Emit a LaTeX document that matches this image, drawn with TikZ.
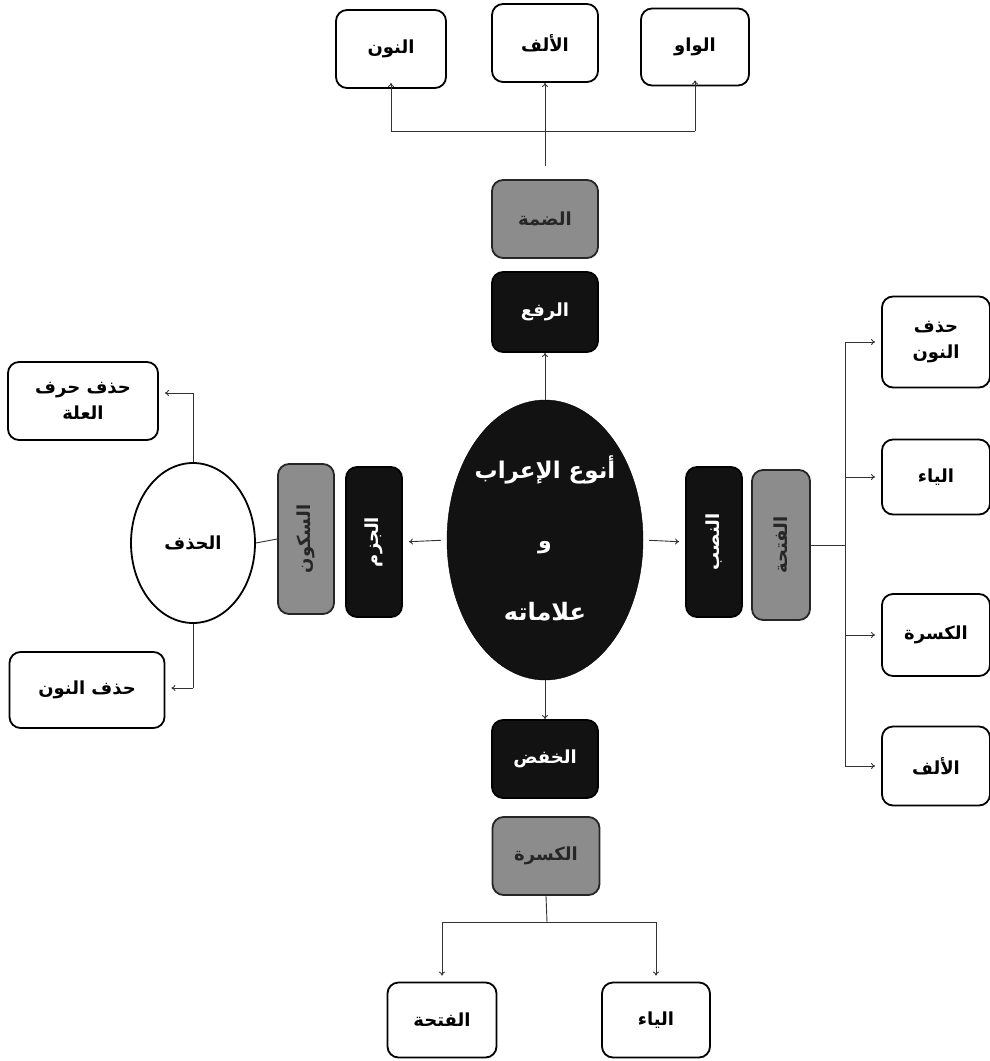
\documentclass[tikz,border=0pt]{standalone}
\usepackage{fontspec}
\usepackage{graphicx}
\usetikzlibrary{arrows.meta,shapes.geometric}
\TeXXeTstate=1
\newfontfamily\arabicfont[Script=Arabic]{DejaVu Sans}
\newcommand{\artext}[1]{{\arabicfont\beginR #1\endR}}
\definecolor{boxgray}{RGB}{140,140,140}
\definecolor{boxblack}{RGB}{18,18,18}
\tikzset{
  base/.style={rounded corners=11pt, line width=1.8pt, inner sep=0pt, align=center,
    font=\arabicfont\bfseries\fontsize{18}{26}\selectfont},
  whitebox/.style={base, draw=black, fill=white, text=black},
  graybox/.style={base, draw=black!85, fill=boxgray, text=black!85},
  blackbox/.style={base, draw=black, fill=boxblack, text=white},
  hbox/.style={minimum width=106pt, minimum height=78pt},
  vbox/.style={minimum width=56pt, minimum height=150pt},
  link/.style={draw=black!80, line width=0.9pt},
  arr/.style={link, -{To[length=4pt,width=6pt]}},
}
\begin{document}
\begin{tikzpicture}[x=1pt,y=-1pt]
\useasboundingbox (0,0) rectangle (990,1061);
\fill[white] (0,0) rectangle (990,1061);

% centre
\node[ellipse, draw=black, fill=boxblack, minimum width=196pt, minimum height=280pt, inner sep=0pt] (circ) at (545,540) {};
\node[text=white, font=\arabicfont\bfseries\fontsize{23}{26}\selectfont] (t1) at (545,470) {\artext{أنوع الإعراب}};
\node[text=white, font=\arabicfont\bfseries\fontsize{22}{24}\selectfont] (t2) at (545,548) {\artext{و}};
\node[text=white, font=\arabicfont\bfseries\fontsize{24}{26}\selectfont] (t3) at (545,612) {\artext{علاماته}};

% upper branch
\node[blackbox, hbox, minimum height=80pt] (raf) at (545,312) {\artext{الرفع}};
\node[graybox, hbox] (damma) at (545,219) {\artext{الضمة}};
\node[whitebox, hbox, minimum width=110pt] (u1) at (391,49) {\artext{النون}};
\node[whitebox, hbox] (u2) at (545,43) {\artext{الألف}};
\node[whitebox, hbox, minimum width=108pt, minimum height=77pt] (u3) at (695,47) {\artext{الواو}};

% right branch
\node[blackbox, vbox] (nasb) at (714,542) {\rotatebox{90}{\artext{النصب}}};
\node[graybox, vbox, minimum width=58pt] (fatha) at (781,545) {\rotatebox{90}{\artext{الفتحة}}};
\node[whitebox, minimum width=108pt, minimum height=91pt] (r1) at (936,342) {\artext{حذف}\\\artext{النون}};
\node[whitebox, minimum width=108pt, minimum height=75pt] (r2) at (936,477) {\artext{الياء}};
\node[whitebox, minimum width=108pt, minimum height=82pt] (r3) at (936,635) {\artext{الكسرة}};
\node[whitebox, minimum width=108pt, minimum height=79pt] (r4) at (936,766) {\artext{الألف}};

% left branch
\node[blackbox, vbox] (jazm) at (374,542) {\rotatebox{90}{\artext{الجزم}}};
\node[graybox, vbox] (sukun) at (306,539) {\rotatebox{90}{\artext{السكون}}};
\node[ellipse, draw=black, line width=1.8pt, fill=white, minimum width=124pt, minimum height=160pt, inner sep=0pt,
      font=\arabicfont\bfseries\fontsize{18}{22}\selectfont] (hadhf) at (193,543) {\artext{الحذف}};
\node[whitebox, minimum width=150pt, minimum height=78pt] (l1) at (83,401) {\artext{حذف حرف}\\\artext{العلة}};
\node[whitebox, minimum width=155pt, minimum height=76pt] (l2) at (87,690) {\artext{حذف النون}};

% lower branch
\node[blackbox, hbox] (khafd) at (545,759) {\artext{الخفض}};
\node[graybox, hbox, minimum width=107pt] (kasra) at (546,856) {\artext{الكسرة}};
\node[whitebox, minimum width=109pt, minimum height=75pt] (b1) at (442,1020) {\artext{الفتحة}};
\node[whitebox, minimum width=108pt, minimum height=75pt] (b2) at (656,1020) {\artext{الياء}};

% upper connectors
\coordinate (ustem) at (545,166);
\coordinate (ubar) at (545,131);
\draw[arr] (circ.north) -- (raf.south);
\draw[arr] (ustem) -- (u2.south);
\draw[link] (u1.south |- ubar) -- (u3.south |- ubar);
\draw[arr] (u1.south |- ubar) -- ([yshift=6pt]u1.south);
\draw[arr] (u3.south |- ubar) -- ([yshift=6pt]u3.south);

% right connectors
\coordinate (rbar) at (845,545);
\draw[arr, shorten <=6pt, shorten >=6pt] (circ.east) -- (nasb.west);
\draw[link] (fatha.east) -- (rbar);
\draw[link] (rbar |- r1.west) -- (rbar |- r4.west);
\foreach \n in {r1,r2,r3,r4}
  \draw[arr, shorten >=6pt] (rbar |- \n.west) -- (\n.west);

% left connectors
\coordinate (ltop) at (193,393);
\coordinate (lbot) at (193,688);
\draw[arr, shorten <=6pt, shorten >=6pt] (circ.west) -- (jazm.east);
\draw[link] (sukun.west) -- (hadhf.east);
\draw[link] (hadhf.north) -- (ltop);
\draw[arr, shorten >=6pt] (ltop) -- (ltop -| l1.east);
\draw[link] (hadhf.south) -- (lbot);
\draw[arr, shorten >=6pt] (lbot) -- (lbot -| l2.east);

% lower connectors
\coordinate (bbar) at (547,922);
\draw[arr] (circ.south) -- (khafd.north);
\draw[link] (kasra.south) -- (bbar);
\draw[link] (bbar -| b1.north) -- (bbar -| b2.north);
\draw[arr, shorten >=6pt] (bbar -| b1.north) -- (b1.north);
\draw[arr, shorten >=6pt] (bbar -| b2.north) -- (b2.north);
\end{tikzpicture}
\end{document}
